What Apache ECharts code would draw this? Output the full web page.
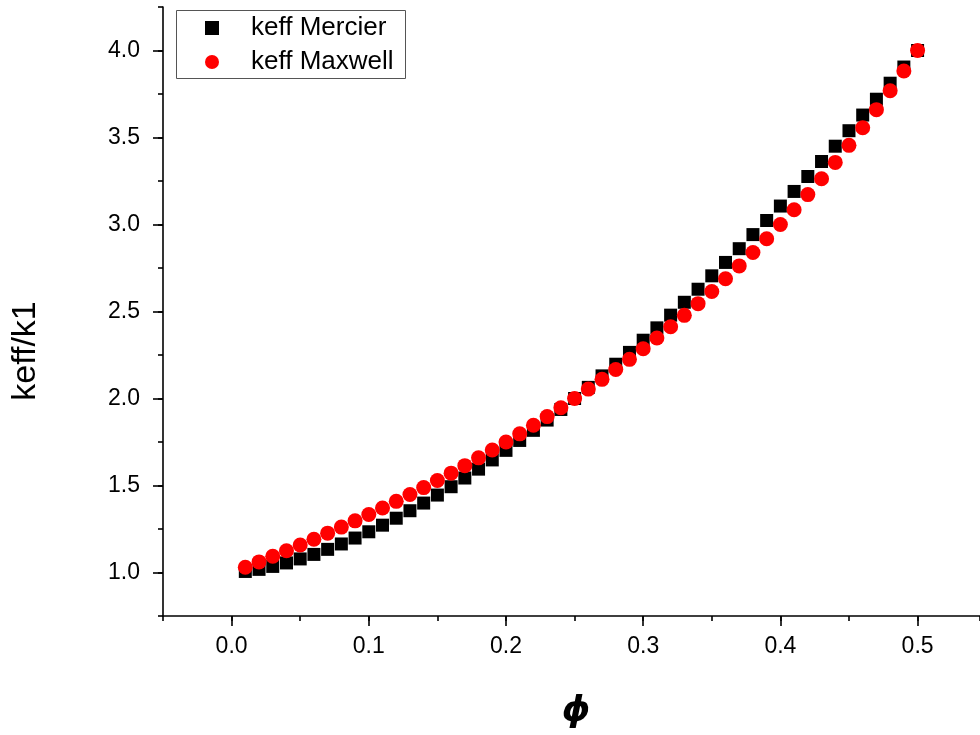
<!DOCTYPE html>
<html>
<head>
<meta charset="utf-8">
<script src="https://cdn.jsdelivr.net/npm/echarts@6/dist/echarts.min.js"></script>
<style>
  html, body { margin: 0; padding: 0; background: #fff; }
  #chart { width: 980px; height: 735px; }
</style>
</head>
<body>
<div id="chart"></div>
<script>
// ---- data ----
const phi = [0.01,0.02,0.03,0.04,0.05,0.06,0.07,0.08,0.09,0.10,
             0.11,0.12,0.13,0.14,0.15,0.16,0.17,0.18,0.19,0.20,
             0.21,0.22,0.23,0.24,0.25,0.26,0.27,0.28,0.29,0.30,
             0.31,0.32,0.33,0.34,0.35,0.36,0.37,0.38,0.39,0.40,
             0.41,0.42,0.43,0.44,0.45,0.46,0.47,0.48,0.49,0.50];
const keffMercier = [1.006,1.018,1.035,1.055,1.078,1.104,1.133,1.164,1.198,1.234,
                     1.272,1.312,1.355,1.399,1.445,1.493,1.543,1.594,1.647,1.702,
                     1.759,1.817,1.876,1.937,2.000,2.064,2.130,2.197,2.265,2.335,
                     2.406,2.479,2.553,2.628,2.705,2.782,2.861,2.942,3.023,3.106,
                     3.190,3.276,3.362,3.450,3.539,3.629,3.720,3.812,3.905,4.000];
const keffMaxwell = [1.030,1.061,1.093,1.125,1.158,1.191,1.226,1.261,1.297,1.333,
                     1.371,1.409,1.448,1.488,1.529,1.571,1.614,1.659,1.704,1.750,
                     1.797,1.846,1.896,1.947,2.000,2.054,2.110,2.167,2.225,2.286,
                     2.348,2.412,2.478,2.545,2.615,2.688,2.762,2.839,2.918,3.000,
                     3.085,3.172,3.263,3.357,3.455,3.556,3.660,3.769,3.882,4.000];
const xTicks = [0.0, 0.1, 0.2, 0.3, 0.4, 0.5];
const yTicks = [1.0, 1.5, 2.0, 2.5, 3.0, 3.5, 4.0];
const seriesNames = ['keff Mercier', 'keff Maxwell'];
const xTitle = '\u03D5';
const yTitle = 'keff/k1';

// ---- chart ----
const chart = echarts.init(document.getElementById('chart'), null, { renderer: 'canvas' });
const FONT = 'Liberation Sans, Arial, sans-serif';
const axisLineStyle = { color: '#000', width: 1.6 };
const X_MIN = -0.05, X_MAX = 0.5455;

const option = {
  animation: false,
  backgroundColor: '#ffffff',
  grid: { left: 163, right: 0, top: 7, bottom: 119, containLabel: false },
  xAxis: [
    {
      type: 'value', min: X_MIN, max: X_MAX,
      axisLine: { show: true, onZero: false, lineStyle: axisLineStyle },
      axisTick: { show: true, inside: false, length: 10, lineStyle: { color: '#000', width: 1.6 }, customValues: xTicks },
      axisLabel: { show: true, margin: 19, fontSize: 23, color: '#000', fontFamily: FONT,
                   customValues: xTicks, formatter: v => Number(v).toFixed(1) },
      splitLine: { show: false }
    },
    {
      type: 'value', min: X_MIN, max: X_MAX, interval: 0.05, position: 'bottom',
      axisLine: { show: false, onZero: false },
      axisTick: { show: true, inside: false, length: 5, lineStyle: { color: '#000', width: 1.6 } },
      axisLabel: { show: false },
      splitLine: { show: false }
    }
  ],
  yAxis: [
    {
      type: 'value', min: 0.75, max: 4.25,
      axisLine: { show: true, onZero: false, lineStyle: axisLineStyle },
      axisTick: { show: true, inside: false, length: 10, lineStyle: { color: '#000', width: 1.6 }, customValues: yTicks },
      axisLabel: { show: true, margin: 23, fontSize: 23, color: '#000', fontFamily: FONT,
                   customValues: yTicks, formatter: v => Number(v).toFixed(1) },
      splitLine: { show: false }
    },
    {
      type: 'value', min: 0.75, max: 4.25, interval: 0.25, position: 'left',
      axisLine: { show: false, onZero: false },
      axisTick: { show: true, inside: false, length: 5, lineStyle: { color: '#000', width: 1.6 } },
      axisLabel: { show: false },
      splitLine: { show: false }
    }
  ],
  legend: {
    orient: 'vertical',
    left: 205, top: 15,
    padding: 0,
    itemWidth: 14, itemHeight: 14,
    itemGap: 8,
    itemStyle: { opacity: 1 },
    textStyle: { fontSize: 26, color: '#000', fontFamily: FONT, lineHeight: 26, padding: [0, 0, 0, 27] },
    data: [
      { name: seriesNames[0], icon: 'rect' },
      { name: seriesNames[1], icon: 'circle' }
    ]
  },
  series: [
    {
      name: seriesNames[0], type: 'scatter', xAxisIndex: 0, yAxisIndex: 0,
      symbol: 'rect', symbolSize: 13,
      itemStyle: { color: '#000000', opacity: 1 },
      data: phi.map((x, i) => [x, keffMercier[i]]),
      z: 2
    },
    {
      name: seriesNames[1], type: 'scatter', xAxisIndex: 0, yAxisIndex: 0,
      symbol: 'circle', symbolSize: 15,
      itemStyle: { color: '#ff0000', opacity: 1 },
      data: phi.map((x, i) => [x, keffMaxwell[i]]),
      z: 3
    }
  ],
  graphic: [
    {
      type: 'rect', left: 176, top: 10, z: 0,
      shape: { width: 229, height: 68 },
      style: { fill: '#fff', stroke: '#555', lineWidth: 1 }
    },
    {
      type: 'text', x: 26, y: 351, rotation: Math.PI / 2,
      style: { text: yTitle, fontSize: 34, fill: '#000', fontFamily: FONT, align: 'center', verticalAlign: 'middle' }
    },
    {
      type: 'text', x: 576, y: 712,
      style: { text: xTitle, fontSize: 36, fontStyle: 'italic', fontWeight: 'bold', fill: '#000', fontFamily: 'DejaVu Sans', align: 'center', verticalAlign: 'middle' }
    }
  ]
};
chart.setOption(option);
</script>
</body>
</html>
